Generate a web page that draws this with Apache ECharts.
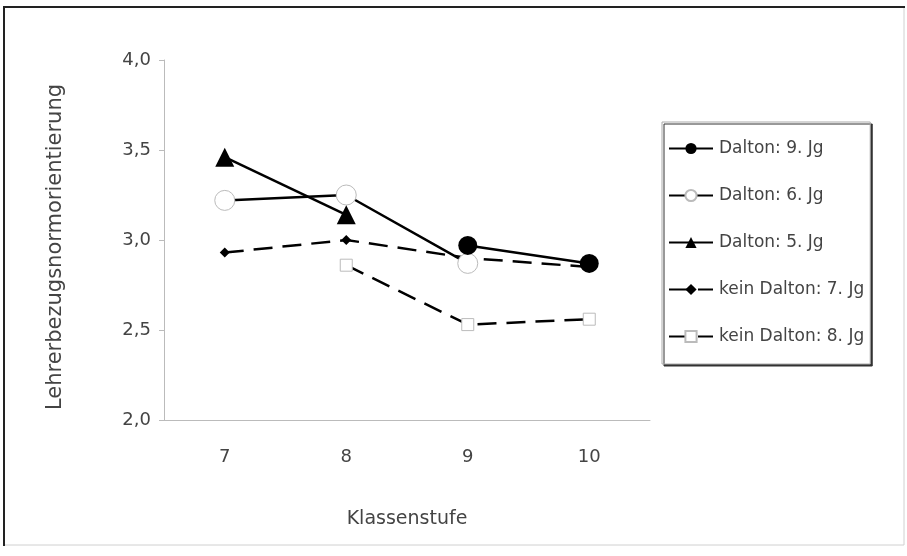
<!DOCTYPE html>
<html>
<head>
<meta charset="utf-8">
<script src="https://cdn.jsdelivr.net/npm/echarts@6/dist/echarts.min.js"></script>
<style>
html,body{margin:0;padding:0;background:#fff;}
#chart{width:907px;height:556px;}
</style>
</head>
<body>
<div id="chart"></div>
<script>
var categories = ['7', '8', '9', '10'];
var seriesNames = ['Dalton: 9. Jg', 'Dalton: 6. Jg', 'Dalton: 5. Jg', 'kein Dalton: 7. Jg', 'kein Dalton: 8. Jg'];
var dalton9 = [null, null, 2.97, 2.87];
var dalton6 = [3.22, 3.25, 2.87, null];
var dalton5 = [3.46, 3.14, null, null];
var keinDalton7 = [2.93, 3.00, 2.90, 2.85];
var keinDalton8 = [null, 2.86, 2.53, 2.56];
var yTicks = [2.0, 2.5, 3.0, 3.5, 4.0];

var FONT = 'DejaVu Sans';
var TXT = '#444';

var chart = echarts.init(document.getElementById('chart'));
chart.setOption({
  backgroundColor: '#fff',
  animation: false,
  graphic: [
    { type: 'rect', shape: { x: 4, y: 7, width: 900, height: 538 }, style: { fill: 'none', stroke: '#d0d0d0', lineWidth: 1 }, silent: true },
    { type: 'line', shape: { x1: 3, y1: 7, x2: 905, y2: 7 }, style: { stroke: '#222', lineWidth: 2 }, silent: true },
    { type: 'line', shape: { x1: 4, y1: 6, x2: 4, y2: 546 }, style: { stroke: '#222', lineWidth: 2 }, silent: true }
  ],
  grid: { left: 164, right: 257, top: 60, bottom: 136, containLabel: false },
  legend: {
    orient: 'vertical',
    left: 662,
    top: 122,
    padding: [18, 6, 19, 6],
    itemGap: 30,
    itemWidth: 44,
    itemHeight: 14,
    backgroundColor: '#fff',
    borderColor: '#aaa',
    borderWidth: 1,
    shadowColor: '#333',
    shadowOffsetX: 2,
    shadowOffsetY: 2,
    shadowBlur: 0,
    textStyle: { fontFamily: FONT, fontSize: 17, color: TXT, padding: [0, 0, 0, 1] },
    data: seriesNames
  },
  xAxis: {
    type: 'category',
    data: categories,
    boundaryGap: true,
    name: 'Klassenstufe',
    nameLocation: 'middle',
    nameGap: 90,
    nameTextStyle: { fontFamily: FONT, fontSize: 19, color: TXT },
    axisLine: { lineStyle: { color: '#bbb', width: 1 } },
    axisTick: { show: false },
    axisLabel: { fontFamily: FONT, fontSize: 18, color: TXT, margin: 28 },
    splitLine: { show: false }
  },
  yAxis: {
    type: 'value',
    min: yTicks[0],
    max: yTicks[yTicks.length - 1],
    interval: 0.5,
    name: 'Lehrerbezugsnormorientierung',
    nameLocation: 'middle',
    nameGap: 98,
    nameTextStyle: { fontFamily: FONT, fontSize: 21, color: TXT, padding: [0, 14, 0, 0] },
    axisLine: { show: true, lineStyle: { color: '#bbb', width: 1 } },
    axisTick: { show: true, length: 5, lineStyle: { color: '#bbb' } },
    axisLabel: {
      fontFamily: FONT, fontSize: 18, color: TXT, margin: 13,
      formatter: function (v) { return v.toFixed(1).replace('.', ','); }
    },
    splitLine: { show: false }
  },
  series: [
    {
      name: seriesNames[0], type: 'line', data: dalton9,
      symbol: 'circle', symbolSize: 19,
      itemStyle: { color: '#000' },
      lineStyle: { color: '#000', width: 2.5 },
      z: 5
    },
    {
      name: seriesNames[1], type: 'line', data: dalton6,
      symbol: 'circle', symbolSize: 20,
      itemStyle: { color: '#fff', borderColor: '#bbb', borderWidth: 1 },
      lineStyle: { color: '#000', width: 2.5 },
      z: 3
    },
    {
      name: seriesNames[2], type: 'line', data: dalton5,
      symbol: 'triangle', symbolSize: 19,
      itemStyle: { color: '#000' },
      lineStyle: { color: '#000', width: 2.5 },
      z: 4
    },
    {
      name: seriesNames[3], type: 'line', data: keinDalton7,
      symbol: 'diamond', symbolSize: 10,
      itemStyle: { color: '#000' },
      lineStyle: { color: '#000', width: 2.5, type: [19, 10] },
      z: 2
    },
    {
      name: seriesNames[4], type: 'line', data: keinDalton8,
      symbol: 'rect', symbolSize: 12,
      itemStyle: { color: '#fff', borderColor: '#bbb', borderWidth: 1 },
      lineStyle: { color: '#000', width: 2.5, type: [19, 10] },
      z: 2
    }
  ]
});
</script>
</body>
</html>
